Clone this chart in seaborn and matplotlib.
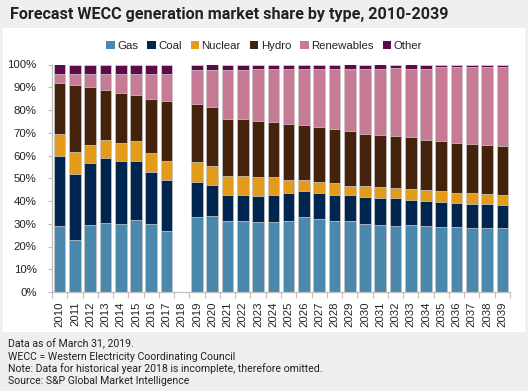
import numpy as np
import pandas as pd
import matplotlib
matplotlib.use("Agg")
import matplotlib.pyplot as plt
from matplotlib.patches import Rectangle, Patch
import seaborn as sns

# Parts des filières (%), 2018 omis (données incomplètes)
years = [str(y) for y in range(2010, 2040)]
gas = [29.1, 22.9, 29.6, 30.4, 30.0, 31.8, 29.9, 26.8, np.nan,
       33.1, 33.5, 31.3, 31.3, 30.9, 30.9, 31.3, 33.1, 32.2, 31.3, 31.3,
       29.9, 29.6, 29.1, 29.6, 29.1, 28.7, 28.7, 28.1, 28.1, 28.1]
coal = [30.6, 29.0, 27.0, 28.4, 27.4, 26.0, 22.7, 22.6, np.nan,
        15.4, 13.6, 11.5, 11.5, 11.5, 11.9, 12.1, 11.2, 11.2, 11.5, 11.3,
        11.7, 11.6, 12.1, 11.0, 11.0, 11.0, 10.4, 10.4, 10.4, 10.0]
nuclear = [9.9, 9.7, 7.8, 8.1, 7.9, 8.4, 8.6, 8.0, np.nan,
           8.6, 8.5, 8.1, 8.1, 8.0, 7.6, 6.0, 5.1, 5.1, 5.3, 4.2,
           5.2, 5.1, 4.5, 4.7, 4.8, 4.6, 4.4, 4.9, 4.6, 4.5]
hydro = [22.2, 29.3, 25.6, 21.9, 22.1, 20.4, 23.7, 26.6, np.nan,
         25.4, 25.6, 25.1, 25.1, 24.6, 24.2, 24.3, 23.8, 24.0, 23.4, 23.8,
         22.8, 22.5, 22.8, 22.8, 21.7, 21.9, 21.8, 21.5, 21.3, 21.4]
renewables = [4.2, 4.8, 5.7, 6.9, 8.3, 9.1, 10.8, 11.7, np.nan,
              15.3, 16.6, 21.8, 21.8, 23.2, 23.6, 24.5, 25.0, 25.7, 26.7, 27.6,
              28.6, 29.4, 30.0, 30.1, 31.6, 32.5, 33.4, 33.8, 34.3, 34.7]
other = [4.0, 4.3, 4.3, 4.3, 4.3, 4.3, 4.3, 4.3, np.nan,
         2.2, 2.2, 2.2, 2.2, 1.8, 1.8, 1.8, 1.8, 1.8, 1.8, 1.8,
         1.8, 1.8, 1.5, 1.8, 1.8, 1.3, 1.3, 1.3, 1.3, 1.3]

types = ["Gas", "Coal", "Nuclear", "Hydro", "Renewables", "Other"]
colors = ["#4a88ad", "#00254f", "#e39b1a", "#45220b", "#c67a93", "#5c0a4c"]

df = pd.DataFrame({"year": years, "Gas": gas, "Coal": coal, "Nuclear": nuclear,
                   "Hydro": hydro, "Renewables": renewables, "Other": other})
cum = df[types].cumsum(axis=1)
cum["year"] = df["year"]

sns.set_theme(style="white")
plt.rcParams["font.family"] = ["Liberation Sans", "DejaVu Sans"]

fig = plt.figure(figsize=(5.28, 3.91), dpi=100)
fig.patch.set_facecolor("#efefef")
fig.patches.append(Rectangle((3 / 528, 1 - 332 / 391), 522 / 528, 304 / 391,
                             transform=fig.transFigure, facecolor="white",
                             edgecolor="none", zorder=-10))

ax = fig.add_axes([52 / 528, 1 - 292 / 391, 458 / 528, 227.5 / 391])
ax.set_facecolor("none")
ax.set_zorder(5)

# empilement : on dessine les cumuls du plus haut au plus bas
for t, c in reversed(list(zip(types, colors))):
    sns.barplot(data=cum, x="year", y=t, order=years, color=c, ax=ax,
                width=0.76, edgecolor="#d4d4d4", linewidth=0.5, saturation=1)

ax.set_xlim(-0.5, len(years) - 0.5)
ax.set_ylim(0, 100)
ax.set_yticks(range(0, 101, 10))
ax.set_yticklabels([f"{v}%" for v in range(0, 101, 10)])
ax.set_xlabel("")
ax.set_ylabel("")
ax.set_xticks(range(len(years)))
ax.set_xticklabels(years, rotation=90)
ax.set_xticks(np.arange(-0.5, len(years), 1), minor=True)
ax.tick_params(axis="x", which="major", length=0, pad=7, labelsize=8.2, colors="#222222")
ax.tick_params(axis="x", which="minor", length=4, width=0.8, color="#bfbfbf", direction="out",
               bottom=True)
ax.tick_params(axis="y", length=3, width=0.8, color="#bfbfbf", pad=8, labelsize=8.2,
               labelcolor="#222222", left=True)
for s in ["top", "right"]:
    ax.spines[s].set_visible(False)
for s in ["left", "bottom"]:
    ax.spines[s].set_color("#bfbfbf")
    ax.spines[s].set_linewidth(0.9)

handles = [Patch(facecolor=c, edgecolor="none") for c in colors]
fig.legend(handles, types, loc="center", bbox_to_anchor=(0.5, 1 - 46 / 391), ncol=6,
           frameon=False, fontsize=8.2, handlelength=0.75, handleheight=0.75,
           handletextpad=0.2, columnspacing=0.8, labelcolor="#222222")

fig.text(10 / 528, 1 - 15 / 391, "Forecast WECC generation market share by type, 2010-2039",
         fontsize=11.6, fontweight="bold", family="Roboto", va="center", ha="left",
         color="#222222")

notes = ["Data as of March 31, 2019.",
         "WECC = Western Electricity Coordinating Council",
         "Note: Data for historical year 2018 is incomplete, therefore omitted.",
         "Source: S&P Global Market Intelligence"]
for i, n in enumerate(notes):
    fig.text(8 / 528, 1 - (344 + i * 12.5) / 391, n, fontsize=7.6, family="Roboto",
             va="center", ha="left", color="#222222")

fig.savefig("out.png", dpi=100, facecolor=fig.get_facecolor())
